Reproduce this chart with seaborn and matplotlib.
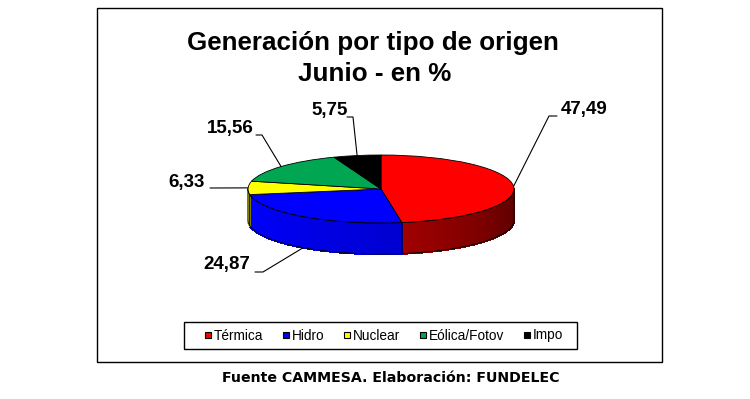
import numpy as np
import matplotlib
matplotlib.use("Agg")
import matplotlib.pyplot as plt
import seaborn as sns
from matplotlib.collections import PolyCollection
from matplotlib.patches import Rectangle, Polygon
from matplotlib.lines import Line2D

# ---------------------------------------------------------------
# Datos
# ---------------------------------------------------------------
categorias = ["Térmica", "Hidro", "Nuclear", "Eólica/Fotov", "Impo"]
porcentajes = [47.49, 24.87, 6.33, 15.56, 5.75]
etiquetas = ["47,49", "24,87", "6,33", "15,56", "5,75"]
colores = ["#FF0000", "#0000FF", "#FFFF00", "#00A651", "#000000"]

sns.set_theme(style="white")
plt.rcParams["font.family"] = ["Liberation Sans", "DejaVu Sans"]
plt.rcParams["text.color"] = "black"

W, H = 750, 399
fig = plt.figure(figsize=(W / 100, H / 100), dpi=100)
fig.patch.set_facecolor("white")

# geometry of the tilted pie, in pixels
CX, CY, RX, RY, DEPTH = 381, 189, 133, 34, 31
ax = fig.add_axes([0, 0, 1, 1])


def px(x, y):
    # pixel position -> axes data units (1 unit = RX px in x, RY px in y)
    return (x - CX) / RX, (CY - y) / RY


# top face
wedges, _ = ax.pie(porcentajes, colors=colores, startangle=90, counterclock=False,
                   radius=1, center=(0, 0),
                   wedgeprops=dict(edgecolor="black", linewidth=0.6))
for w in wedges:
    w.set_zorder(3)

ax.set_aspect("auto")
ax.set_xlim(-CX / RX, (W - CX) / RX)
ax.set_ylim((CY - H) / RY, CY / RY)
ax.axis("off")

# side wall (only the front half is visible): darker at the right
lados = [(0.33, 0.63), (0.82, 1.0), (0.85, 0.85), (0.6, 0.6), (0.6, 0.6)]
bordes = np.cumsum([0] + porcentajes) * 3.6  # clockwise from top, degrees
d = DEPTH / RY
for i, c in enumerate(colores):
    a0, a1 = max(bordes[i], 90), min(bordes[i + 1], 270)
    if a1 <= a0:
        continue
    t = np.radians(np.linspace(a0, a1, 80))
    x, y = np.sin(t), np.cos(t)
    rgb = np.array(matplotlib.colors.to_rgb(c))
    f = np.linspace(lados[i][0], lados[i][1], len(t))
    quads, fc = [], []
    for k in range(len(t) - 1):
        quads.append([(x[k], y[k]), (x[k + 1], y[k + 1]),
                      (x[k + 1], y[k + 1] - d), (x[k], y[k] - d)])
        fc.append(rgb * f[k])
    ax.add_collection(PolyCollection(quads, facecolors=fc, edgecolors=fc,
                                     linewidths=1.0, antialiaseds=False, zorder=1))
    outline = np.concatenate([np.c_[x, y], np.c_[x[::-1], y[::-1] - d]])
    ax.add_patch(Polygon(outline, closed=True, fill=False, edgecolor="black",
                         linewidth=0.6, zorder=2))

# data labels with leader lines
texto_pos = [(584, 110), (227, 265), (187, 183), (230, 129), (330, 111)]
codo_pos = [[(557, 116), (549, 116)], [(255, 272), (263, 272)], [(210, 188)],
            [(256, 135), (262, 135)], [(347, 117), (353, 117)]]
for i, lab in enumerate(etiquetas):
    mid = np.radians((bordes[i] + bordes[i + 1]) / 2)
    ex, ey = np.sin(mid), np.cos(mid)
    if 90 < np.degrees(mid) < 270 and i != 2:
        ey -= d
    pts = [px(*p) for p in codo_pos[i]] + [(ex, ey)]
    ax.plot([p[0] for p in pts], [p[1] for p in pts], color="black", lw=0.8, zorder=4)
    ax.text(*px(*texto_pos[i]), lab, ha="center", va="center", fontsize=13.5,
            fontweight="bold", color="black", zorder=5)

# title
fig.text(373 / W, 1 - 43 / H, "Generación por tipo de origen", ha="center", va="center",
         fontsize=18.7, fontweight="bold", color="black")
fig.text(375 / W, 1 - 74 / H, "Junio - en %", ha="center", va="center",
         fontsize=18.7, fontweight="bold", color="black")

# legend (box drawn separately so its padding matches)
handles = [Line2D([], [], marker="s", linestyle="none", markersize=5,
                  markerfacecolor=c, markeredgecolor="black", markeredgewidth=0.8)
           for c in colores]
leg = fig.legend(handles, categorias, loc="center", bbox_to_anchor=(384 / W, 1 - 335.5 / H),
                 ncol=5, fontsize=9.8, frameon=False,
                 handlelength=0.5, handletextpad=0.2, columnspacing=1.4,
                 borderpad=0, borderaxespad=0)
for t in leg.get_texts():
    t.set_color("black")
fig.add_artist(Rectangle((184 / W, 1 - 349 / H), (577 - 184) / W, (349 - 322) / H,
                         transform=fig.transFigure, fill=False, edgecolor="black", lw=1.0))

# outer frame
fig.add_artist(Rectangle((97 / W, 1 - 362 / H), (662 - 97) / W, (362 - 8) / H,
                         transform=fig.transFigure, fill=False, edgecolor="black", lw=1.0))

# source
fig.text(391 / W, 1 - 378 / H, "Fuente CAMMESA. Elaboración: FUNDELEC", ha="center",
         va="center", fontsize=10.2, fontweight="bold", family="DejaVu Sans", color="black")

fig.savefig("out.png", dpi=100)
